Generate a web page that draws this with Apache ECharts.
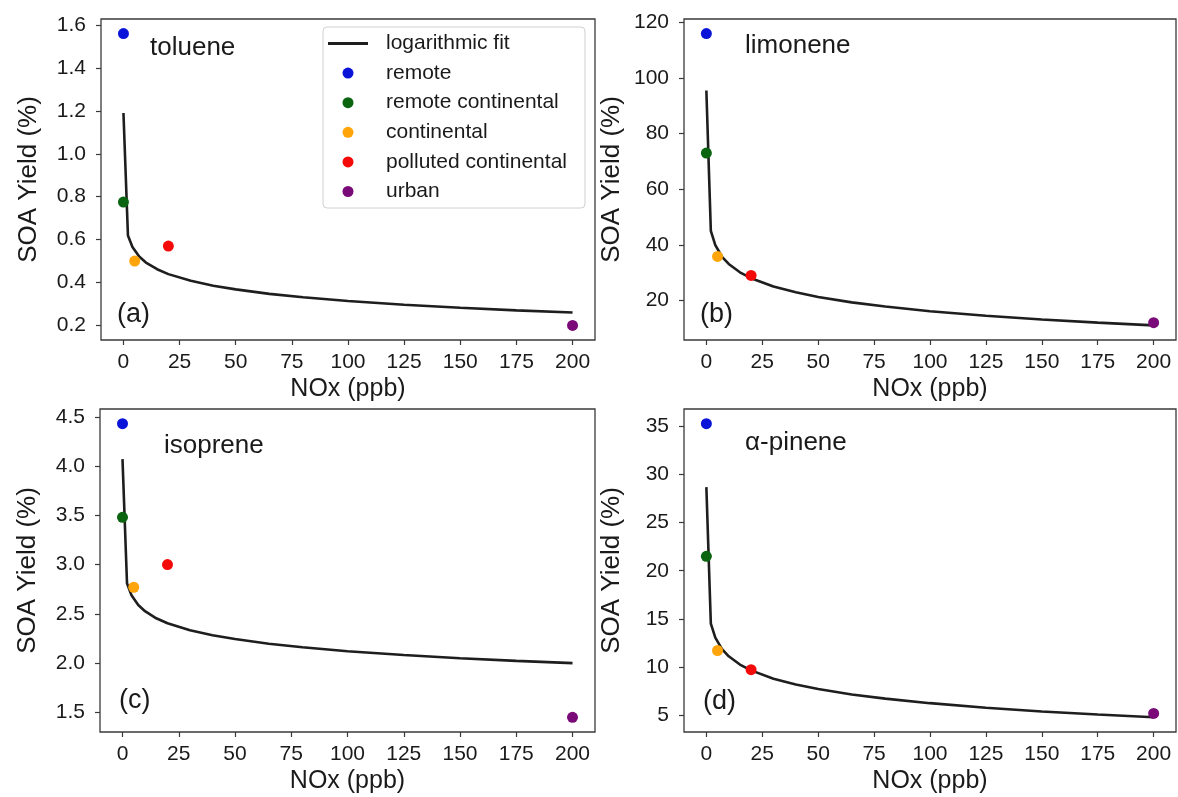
<!DOCTYPE html>
<html>
<head>
<meta charset="utf-8">
<title>SOA yield vs NOx</title>
<script src="https://cdn.jsdelivr.net/npm/echarts@6/dist/echarts.min.js"></script>
<style>
  html, body { margin: 0; padding: 0; background: #fff; }
  #chart { width: 1178px; height: 797px; }
</style>
</head>
<body>
<div id="chart"></div>
<script>
// Environment categories and their NOx levels (ppb)
const SITE_NAMES = ['remote', 'remote continental', 'continental', 'polluted continental', 'urban'];
const SITE_NOX = [0, 0, 5, 20, 200];
const SITE_COLORS = ['#0a14d8', '#0a6410', '#ffa50a', '#f50a0a', '#7a0a78'];

// SOA yield (%) at each environment
const TOLUENE_YIELD = [1.56, 0.775, 0.50, 0.57, 0.20];
const LIMONENE_YIELD = [116, 73, 35.8, 29, 12];
const ISOPRENE_YIELD = [4.43, 3.48, 2.77, 3.00, 1.45];
const APINENE_YIELD = [35.3, 21.5, 11.7, 9.7, 5.15];

// Logarithmic fit curves
const FIT_NOX = [0, 2, 4, 7, 10, 15, 20, 30, 40, 50, 65, 80, 100, 125, 150, 175, 200];
const TOLUENE_FIT = [1.19, 0.619, 0.565, 0.521, 0.493, 0.462, 0.439, 0.408, 0.385, 0.368, 0.347, 0.331, 0.314, 0.296, 0.282, 0.270, 0.260];
const LIMONENE_FIT = [95.5, 45.0, 39.9, 35.7, 33.1, 30.1, 28.0, 25.0, 22.9, 21.2, 19.3, 17.8, 16.1, 14.5, 13.1, 12.0, 11.0];
const ISOPRENE_FIT = [4.07, 2.81, 2.688, 2.589, 2.527, 2.455, 2.405, 2.333, 2.283, 2.244, 2.197, 2.161, 2.121, 2.082, 2.050, 2.023, 2.000];
const APINENE_FIT = [28.7, 14.5, 13.04, 11.85, 11.10, 10.24, 9.63, 8.77, 8.16, 7.69, 7.13, 6.69, 6.22, 5.75, 5.36, 5.04, 4.75];

// Tick values
const X_TICKS = [0, 25, 50, 75, 100, 125, 150, 175, 200];
const TOLUENE_TICKS = [0.2, 0.4, 0.6, 0.8, 1.0, 1.2, 1.4, 1.6];
const LIMONENE_TICKS = [20, 40, 60, 80, 100, 120];
const ISOPRENE_TICKS = [1.5, 2.0, 2.5, 3.0, 3.5, 4.0, 4.5];
const APINENE_TICKS = [5, 10, 15, 20, 25, 30, 35];

const FIT_NAME = 'logarithmic fit';
const FONT = '"Liberation Sans", Arial, Helvetica, sans-serif';
const TEXT = '#1a1a1a';
const SPINE = '#3a3a3a';

const panels = [
  { name: 'toluene', tag: '(a)', yields: TOLUENE_YIELD, fit: TOLUENE_FIT, ticks: TOLUENE_TICKS, ymin: 0.132, ymax: 1.628, dec: 1,
    grid: { left: 101, top: 19, width: 494, height: 321 }, nameAt: [150, 48], tagAt: [117, 315] },
  { name: 'limonene', tag: '(b)', yields: LIMONENE_YIELD, fit: LIMONENE_FIT, ticks: LIMONENE_TICKS, ymin: 5.75, ymax: 121.25, dec: 0,
    grid: { left: 684, top: 19, width: 492, height: 321 }, nameAt: [745, 46], tagAt: [700, 315] },
  { name: 'isoprene', tag: '(c)', yields: ISOPRENE_YIELD, fit: ISOPRENE_FIT, ticks: ISOPRENE_TICKS, ymin: 1.301, ymax: 4.579, dec: 1,
    grid: { left: 100, top: 409, width: 495, height: 323 }, nameAt: [164, 446], tagAt: [119, 701] },
  { name: 'α-pinene', tag: '(d)', yields: APINENE_YIELD, fit: APINENE_FIT, ticks: APINENE_TICKS, ymin: 3.22, ymax: 36.83, dec: 0,
    grid: { left: 684, top: 409, width: 492, height: 323 }, nameAt: [745, 443], tagAt: [703, 702] }
];

const grids = [], xAxes = [], yAxes = [], series = [], texts = [];

panels.forEach((p, i) => {
  grids.push(Object.assign({ show: true, borderColor: SPINE, borderWidth: 1.3, backgroundColor: '#fff' }, p.grid));

  xAxes.push({
    type: 'value', gridIndex: i, min: -10, max: 210,
    name: 'NOx (ppb)', nameLocation: 'middle', nameGap: 37,
    nameTextStyle: { fontFamily: FONT, fontSize: 25, color: TEXT },
    axisLine: { show: false, onZero: false },
    axisTick: { show: true, length: 5, lineStyle: { color: SPINE, width: 1.2 }, customValues: X_TICKS },
    axisLabel: { fontFamily: FONT, fontSize: 21, color: TEXT, margin: 12, customValues: X_TICKS },
    splitLine: { show: false }
  });

  yAxes.push({
    type: 'value', gridIndex: i, min: p.ymin, max: p.ymax,
    name: 'SOA Yield (%)', nameLocation: 'middle', nameGap: 59, nameRotate: 90,
    nameTextStyle: { fontFamily: FONT, fontSize: 26, color: TEXT },
    axisLine: { show: false, onZero: false },
    axisTick: { show: true, length: 5, lineStyle: { color: SPINE, width: 1.2 }, customValues: p.ticks },
    axisLabel: { fontFamily: FONT, fontSize: 21, color: TEXT, margin: 15, customValues: p.ticks,
      formatter: v => v.toFixed(p.dec) },
    splitLine: { show: false }
  });

  series.push({
    name: FIT_NAME, type: 'line', xAxisIndex: i, yAxisIndex: i,
    data: FIT_NOX.map((x, k) => [x, p.fit[k]]),
    symbol: 'none', showSymbol: false, smooth: false,
    lineStyle: { color: '#1e1e1e', width: 2.6 },
    itemStyle: { color: '#1e1e1e' },
    z: 2, silent: true
  });

  SITE_NAMES.forEach((s, k) => {
    series.push({
      name: s, type: 'scatter', xAxisIndex: i, yAxisIndex: i,
      data: [[SITE_NOX[k], p.yields[k]]],
      symbol: 'circle', symbolSize: 11,
      itemStyle: { color: SITE_COLORS[k], opacity: 1 },
      z: 3, silent: true
    });
  });

  texts.push({ type: 'text', x: p.nameAt[0], y: p.nameAt[1],
    style: { text: p.name, font: '26px ' + FONT, fill: TEXT, verticalAlign: 'middle' } });
  texts.push({ type: 'text', x: p.tagAt[0], y: p.tagAt[1],
    style: { text: p.tag, font: '27px ' + FONT, fill: TEXT, verticalAlign: 'middle' } });
});

const chart = echarts.init(document.getElementById('chart'), null, { renderer: 'canvas' });
chart.setOption({
  animation: false,
  backgroundColor: '#fff',
  grid: grids,
  xAxis: xAxes,
  yAxis: yAxes,
  series: series,
  graphic: texts,
  legend: {
    orient: 'vertical',
    left: 323, top: 27,
    data: [{ name: FIT_NAME, icon: 'path://M0,0H40V3H0Z' }].concat(SITE_NAMES.map(n => ({ name: n, icon: 'circle' }))),
    itemWidth: 40, itemHeight: 11, itemGap: 8.6,
    padding: [6, 18, 6, 5],
    borderColor: '#d0d0d0', borderWidth: 1, borderRadius: 4,
    backgroundColor: 'rgba(255,255,255,0.9)',
    selectedMode: false,
    textStyle: { fontFamily: FONT, fontSize: 21, lineHeight: 20, color: TEXT, padding: [0, 0, 0, 13] }
  }
});
</script>
</body>
</html>
